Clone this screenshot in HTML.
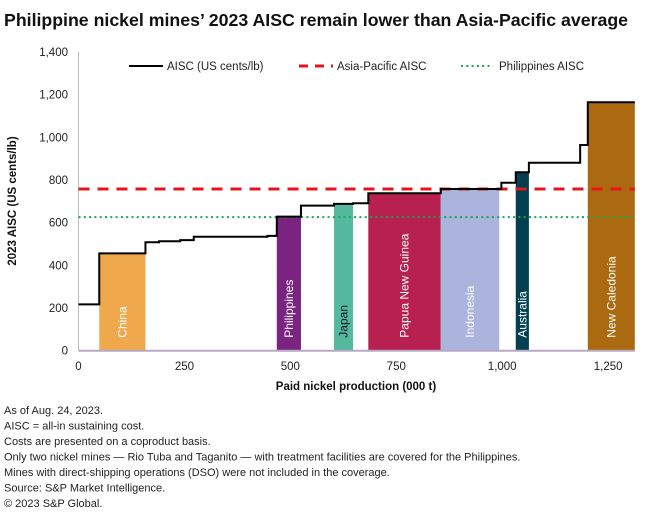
<!DOCTYPE html>
<html><head><meta charset="utf-8"><style>
body{margin:0;background:#fff;font-family:"Liberation Sans",sans-serif;}
svg text{font-family:"Liberation Sans",sans-serif;}
</style></head><body>
<svg width="660" height="519" viewBox="0 0 660 519">
<text x="4" y="26" font-size="17.5" font-weight="bold" fill="#111" textLength="624" lengthAdjust="spacingAndGlyphs">Philippine nickel mines’ 2023 AISC remain lower than Asia-Pacific average</text>
<g id="plot"></g>
<g id="notes" font-size="11" fill="#222">
<text x="4" y="414">As of Aug. 24, 2023.</text>
<text x="4" y="429.5">AISC = all-in sustaining cost.</text>
<text x="4" y="445">Costs are presented on a coproduct basis.</text>
<text x="4" y="460.5">Only two nickel mines — Rio Tuba and Taganito — with treatment facilities are covered for the Philippines.</text>
<text x="4" y="476">Mines with direct-shipping operations (DSO) were not included in the coverage.</text>
<text x="4" y="491.5">Source: S&amp;P Market Intelligence.</text>
<text x="4" y="507">© 2023 S&amp;P Global.</text>
</g>
</svg>
<script>
const regionNames=["China","Philippines","Japan","Papua New Guinea","Indonesia","Australia","New Caledonia"];
const regionStart=[49,468,603,684,855,1032,1202];
const regionEnd=[158,525,648,855,993,1063,1313];
const regionValue=[456,628,688,738,758,836,1164];
const regionColors=["#f0a84c","#7b2380","#55b9a0","#b82050","#aab4dc","#004050","#ab6a10"];
const stepX=[0,49,158,190,240,272,446,468,525,603,648,684,855,998,1032,1063,1184,1202,1313];
const stepY=[217,456,508,513,518,534,538,628,680,688,691,738,758,787,836,881,964,1164];
const asiaPacificAISC=758;
const philippinesAISC=626;
const xTicks=[0,250,500,750,1000,1250];
const xTickLabels=["0","250","500","750","1,000","1,250"];
const yTicks=[0,200,400,600,800,1000,1200,1400];
const yTickLabels=["0","200","400","600","800","1,000","1,200","1,400"];

const NS="http://www.w3.org/2000/svg";
const g=document.getElementById('plot');
const X0=78.5,XS=0.4237,Y0=350.7,YS=0.2134,XMAX=1313;
const xs=v=>X0+v*XS, ys=v=>Y0-v*YS;
function mk(t,a,p){const e=document.createElementNS(NS,t);for(const k in a)e.setAttribute(k,a[k]);(p||g).appendChild(e);return e;}

regionNames.forEach((n,i)=>{
  const r=mk('rect',{x:xs(regionStart[i]),y:ys(regionValue[i]),width:xs(regionEnd[i])-xs(regionStart[i]),height:Y0-ys(regionValue[i]),fill:regionColors[i]});
  
  
  const cx=(xs(regionStart[i])+xs(regionEnd[i]))/2, cy=Y0-13;
  const t=mk('text',{x:cx,y:cy,transform:`rotate(-90 ${cx} ${cy})`,'font-size':12,fill:n==="Japan"?"#1a1a1a":"#fff",'dominant-baseline':'central'});
  t.textContent=n;
  
  
});

const ya=mk('line',{x1:X0,y1:52,x2:X0,y2:Y0,stroke:'#bbb','stroke-width':1});


const xa=mk('line',{x1:X0,y1:Y0,x2:xs(XMAX),y2:Y0,stroke:'#b9a8c4','stroke-width':2});



const ap=mk('line',{x1:X0,y1:ys(asiaPacificAISC),x2:xs(XMAX),y2:ys(asiaPacificAISC),stroke:'#e8141c','stroke-width':3,'stroke-dasharray':'11 8'});


const ph=mk('line',{x1:X0,y1:ys(philippinesAISC),x2:xs(XMAX),y2:ys(philippinesAISC),stroke:'#1aa64a','stroke-width':2,'stroke-dasharray':'2 3.3'});



let d='';
for(let i=0;i<stepY.length;i++){
  d+=(i?'L':'M')+xs(stepX[i])+' '+ys(stepY[i])+' L'+xs(stepX[i+1])+' '+ys(stepY[i])+' ';
}
const sl=mk('path',{d:d,fill:'none',stroke:'#000','stroke-width':2});



xTicks.forEach((v,i)=>{
  const t=mk('text',{x:xs(v),y:370,'font-size':11.5,fill:'#222','text-anchor':'middle'});
  t.textContent=xTickLabels[i];
  
  
});
yTicks.forEach((v,i)=>{
  const t=mk('text',{x:68,y:ys(v)+4,'font-size':11.5,fill:'#222','text-anchor':'end'});
  t.textContent=yTickLabels[i];
  
  
});
const xt=mk('text',{x:356,y:390,'font-size':11.5,'font-weight':'bold',fill:'#111','text-anchor':'middle'});
xt.textContent='Paid nickel production (000 t)';


const yt=mk('text',{x:16,y:201,'font-size':11.5,'font-weight':'bold',fill:'#111','text-anchor':'middle',transform:'rotate(-90 16 201)'});
yt.textContent='2023 AISC (US cents/lb)';



const lg=mk('g',{'font-size':11.5,fill:'#222'});


const l1=mk('line',{x1:129,y1:66,x2:163,y2:66,stroke:'#000','stroke-width':2},lg);


const t1=mk('text',{x:167,y:70},lg);t1.textContent='AISC (US cents/lb)';


const l2=mk('line',{x1:299,y1:66,x2:333,y2:66,stroke:'#e8141c','stroke-width':3,'stroke-dasharray':'9 7'},lg);


const t2=mk('text',{x:337,y:70},lg);t2.textContent='Asia-Pacific AISC';


const l3=mk('line',{x1:461,y1:66,x2:493,y2:66,stroke:'#1aa64a','stroke-width':2,'stroke-dasharray':'2 3.3'},lg);


const t3=mk('text',{x:499,y:70},lg);t3.textContent='Philippines AISC';


</script>
</body></html>
